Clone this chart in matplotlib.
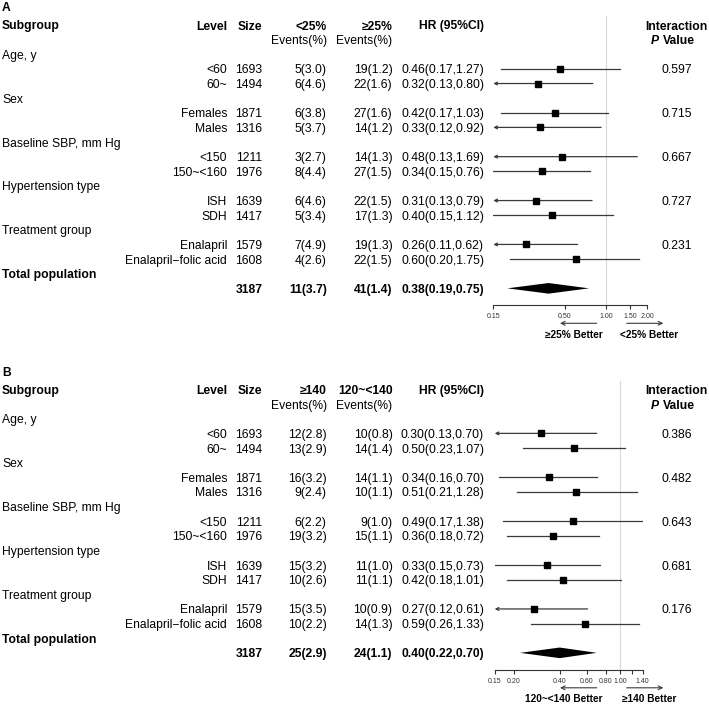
import matplotlib
matplotlib.use("Agg")
import matplotlib.pyplot as plt
from matplotlib.ticker import NullLocator

plt.rcParams['font.family'] = ['Liberation Sans', 'DejaVu Sans']

# shared table columns
groups = ["Age, y", "Sex", "Baseline SBP, mm Hg", "Hypertension type", "Treatment group"]
levels = ["<60", "60~", "Females", "Males", "<150", "150~<160", "ISH", "SDH",
          "Enalapril", "Enalapril\u2212folic acid"]
sizes = [1693, 1494, 1871, 1316, 1211, 1976, 1639, 1417, 1579, 1608]
total_size = 3187

# panel A : <25% vs >=25%
a_heads = ["<25%", "\u226525%"]
a_ev1_n = [5, 6, 6, 5, 3, 8, 6, 5, 7, 4]
a_ev1_pct = [3.0, 4.6, 3.8, 3.7, 2.7, 4.4, 4.6, 3.4, 4.9, 2.6]
a_ev2_n = [19, 22, 27, 14, 14, 27, 22, 17, 19, 22]
a_ev2_pct = [1.2, 1.6, 1.6, 1.2, 1.3, 1.5, 1.5, 1.3, 1.3, 1.5]
a_hr = [0.46, 0.32, 0.42, 0.33, 0.48, 0.34, 0.31, 0.40, 0.26, 0.60]
a_lo = [0.17, 0.13, 0.17, 0.12, 0.13, 0.15, 0.13, 0.15, 0.11, 0.20]
a_hi = [1.27, 0.80, 1.03, 0.92, 1.69, 0.76, 0.79, 1.12, 0.62, 1.75]
a_pval = [0.597, 0.715, 0.667, 0.727, 0.231]
a_total = [11, 3.7, 41, 1.4, 0.38, 0.19, 0.75]
a_ticks = [0.15, 0.50, 1.00, 1.50, 2.00]
a_ticklabels = ["0.15", "0.50", "1.00", "1.50", "2.00"]
a_better = ["\u226525% Better", "<25% Better"]

# panel B : >=140 vs 120~<140
b_heads = ["\u2265140", "120~<140"]
b_ev1_n = [12, 13, 16, 9, 6, 19, 15, 10, 15, 10]
b_ev1_pct = [2.8, 2.9, 3.2, 2.4, 2.2, 3.2, 3.2, 2.6, 3.5, 2.2]
b_ev2_n = [10, 14, 14, 10, 9, 15, 11, 11, 10, 14]
b_ev2_pct = [0.8, 1.4, 1.1, 1.1, 1.0, 1.1, 1.0, 1.1, 0.9, 1.3]
b_hr = [0.30, 0.50, 0.34, 0.51, 0.49, 0.36, 0.33, 0.42, 0.27, 0.59]
b_lo = [0.13, 0.23, 0.16, 0.21, 0.17, 0.18, 0.15, 0.18, 0.12, 0.26]
b_hi = [0.70, 1.07, 0.70, 1.28, 1.38, 0.72, 0.73, 1.01, 0.61, 1.33]
b_pval = [0.386, 0.482, 0.643, 0.681, 0.176]
b_total = [25, 2.9, 24, 1.1, 0.40, 0.22, 0.70]
b_ticks = [0.15, 0.20, 0.40, 0.60, 0.80, 1.00, 1.20, 1.40]
b_ticklabels = ["0.15", "0.20", "0.40", "0.60", "0.80", "1.00", "", "1.40"]
b_better = ["120~<140 Better", "\u2265140 Better"]

W, H = 709, 706
FS = 8.7
XMIN = 0.15
LINE_COL = '#3a3a3a'

fig = plt.figure(figsize=(W / 100, H / 100), dpi=100)
bg = fig.add_axes([0, 0, 1, 1])
bg.set_xlim(0, W)
bg.set_ylim(H, 0)
bg.axis('off')


def draw_panel(top, letter, heads, ev1_n, ev1_pct, ev2_n, ev2_pct, hr, lo, hi,
               pvals, total, ticks, ticklabels, better, ax_left, ax_right):
    row = lambda r: top + 25 + r * 14.63

    bg.text(2, top + 6.5, letter, fontsize=FS, weight='bold', va='center_baseline')
    # header
    bg.text(2, row(0), "Subgroup", fontsize=FS, weight='bold', va='center_baseline')
    bg.text(227, row(0), "Level", fontsize=FS, weight='bold', ha='right', va='center_baseline')
    bg.text(262.3, row(0), "Size", fontsize=FS, weight='bold', ha='right', va='center_baseline')
    bg.text(326.7, row(0), heads[0], fontsize=FS, weight='bold', ha='right', va='center_baseline')
    bg.text(392.5, row(0), heads[1], fontsize=FS, weight='bold', ha='right', va='center_baseline')
    bg.text(484, row(0), "HR (95%CI)", fontsize=FS, weight='bold', ha='right', va='center_baseline')
    bg.text(326.7, row(1), "Events(%)", fontsize=FS, ha='right', va='center_baseline')
    bg.text(392.5, row(1), "Events(%)", fontsize=FS, ha='right', va='center_baseline')
    bg.text(676, row(0), "Interaction", fontsize=FS, weight='bold', ha='center', va='center_baseline')
    bg.text(651, row(1), "P", fontsize=FS, weight='bold', style='italic', va='center_baseline')
    bg.text(662.5, row(1), "Value", fontsize=FS, weight='bold', va='center_baseline')

    # forest axes, y data in pixel rows
    fax = fig.add_axes([ax_left / W, 1 - (top + 305) / H, (ax_right - ax_left) / W, 289 / H])
    fax.set_xscale('log')
    fax.set_xlim(XMIN, ticks[-1])
    fax.set_ylim(top + 305, top + 16)
    fax.patch.set_alpha(0)
    for s in ['top', 'right', 'left']:
        fax.spines[s].set_visible(False)
    fax.spines['bottom'].set_linewidth(0.8)
    fax.spines['bottom'].set_color('#333333')
    fax.set_yticks([])
    fax.set_xticks(ticks)
    fax.set_xticklabels(ticklabels)
    fax.xaxis.set_minor_locator(NullLocator())
    fax.tick_params(axis='x', length=3, width=0.8, color='#333333', labelsize=5,
                    labelcolor='#333333', pad=3)
    fax.axvline(1.0, color='#d6d6d6', lw=0.8, zorder=0)

    for g, name in enumerate(groups):
        bg.text(2, row(2 + 3 * g), name, fontsize=FS, va='center_baseline')
        bg.text(676.7, row(3 + 3 * g), f"{pvals[g]:.3f}", fontsize=FS, ha='center',
                va='center_baseline')

    for i, lev in enumerate(levels):
        r = 3 + 3 * (i // 2) + (i % 2)
        y = row(r)
        bg.text(227, y, lev, fontsize=FS, ha='right', va='center_baseline')
        bg.text(262.3, y, str(sizes[i]), fontsize=FS, ha='right', va='center_baseline')
        bg.text(326.7, y, f"{ev1_n[i]}({ev1_pct[i]:.1f})", fontsize=FS, ha='right', va='center_baseline')
        bg.text(392.5, y, f"{ev2_n[i]}({ev2_pct[i]:.1f})", fontsize=FS, ha='right', va='center_baseline')
        bg.text(484, y, f"{hr[i]:.2f}({lo[i]:.2f},{hi[i]:.2f})", fontsize=FS, ha='right',
                va='center_baseline')
        if lo[i] < XMIN:
            fax.annotate('', xy=(XMIN, y), xytext=(hi[i], y), annotation_clip=False,
                         arrowprops=dict(arrowstyle='->', color=LINE_COL, lw=0.9,
                                         shrinkA=0, shrinkB=0, mutation_scale=5))
        else:
            fax.plot([lo[i], hi[i]], [y, y], color=LINE_COL, lw=0.9)
        fax.plot(hr[i], y, marker='s', color='black', markersize=4.6, zorder=3)

    # total
    bg.text(2, row(17), "Total population", fontsize=FS, weight='bold', va='center_baseline')
    yt = row(18)
    bg.text(262.3, yt, str(total_size), fontsize=FS, weight='bold', ha='right', va='center_baseline')
    bg.text(326.7, yt, f"{total[0]}({total[1]:.1f})", fontsize=FS, weight='bold', ha='right',
            va='center_baseline')
    bg.text(392.5, yt, f"{total[2]}({total[3]:.1f})", fontsize=FS, weight='bold', ha='right',
            va='center_baseline')
    bg.text(484, yt, f"{total[4]:.2f}({total[5]:.2f},{total[6]:.2f})", fontsize=FS,
            weight='bold', ha='right', va='center_baseline')
    fax.fill([total[5], total[4], total[6], total[4]], [yt, yt - 5.3, yt, yt + 5.3],
             color='black', lw=0)

    # better arrows
    ya = top + 323.3
    bg.annotate('', xy=(560, ya), xytext=(596.7, ya),
                arrowprops=dict(arrowstyle='->', lw=0.8, color=LINE_COL, shrinkA=0,
                                shrinkB=0, mutation_scale=7))
    bg.annotate('', xy=(663.3, ya), xytext=(626.7, ya),
                arrowprops=dict(arrowstyle='->', lw=0.8, color=LINE_COL, shrinkA=0,
                                shrinkB=0, mutation_scale=7))
    bg.text(602.5, top + 333.5, better[0], fontsize=7.3, weight='bold', ha='right',
            va='center_baseline')
    bg.text(649.5, top + 333.5, better[1], fontsize=7.3, weight='bold', ha='center',
            va='center_baseline')


draw_panel(0, "A", a_heads, a_ev1_n, a_ev1_pct, a_ev2_n, a_ev2_pct, a_hr, a_lo, a_hi,
           a_pval, a_total, a_ticks, a_ticklabels, a_better, 493.3, 647.3)
draw_panel(364.5, "B", b_heads, b_ev1_n, b_ev1_pct, b_ev2_n, b_ev2_pct, b_hr, b_lo, b_hi,
           b_pval, b_total, b_ticks, b_ticklabels, b_better, 494.7, 642.7)

fig.savefig("out.png", dpi=100)
